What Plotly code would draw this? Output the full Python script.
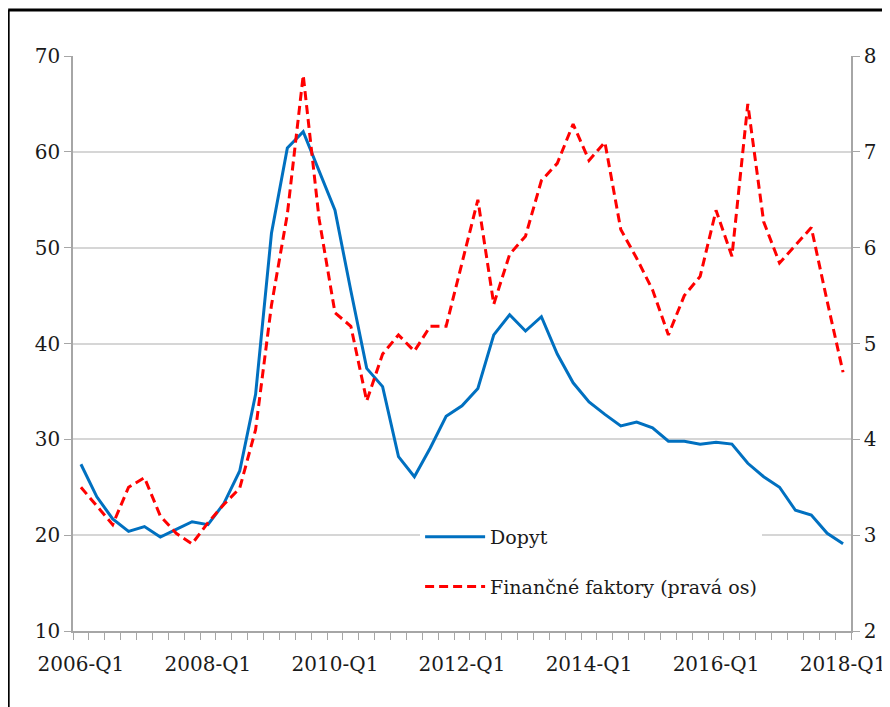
import plotly.graph_objects as go

quarters = [f"{y}-Q{q}" for y in range(2006, 2019) for q in range(1, 5)][:49]

dopyt = [27.4, 24.0, 21.7, 20.4, 20.9, 19.8, 20.6, 21.4, 21.1, 23.3, 26.7, 34.7,
         51.5, 60.4, 62.1, 58.0, 53.9, 45.5, 37.4, 35.5, 28.2, 26.1, 29.1, 32.4,
         33.5, 35.3, 40.9, 43.0, 41.3, 42.8, 38.9, 35.9, 33.9, 32.6, 31.4, 31.8,
         31.2, 29.8, 29.8, 29.5, 29.7, 29.5, 27.5, 26.1, 25.0, 22.6, 22.1, 20.2,
         19.1]

financne = [3.50, 3.30, 3.11, 3.50, 3.60, 3.20, 3.02, 2.91, 3.13, 3.32, 3.49, 4.10,
            5.40, 6.35, 7.80, 6.30, 5.32, 5.18, 4.40, 4.89, 5.09, 4.92, 5.18, 5.18,
            5.85, 6.50, 5.41, 5.93, 6.12, 6.70, 6.88, 7.29, 6.91, 7.10, 6.19, 5.89,
            5.56, 5.09, 5.50, 5.70, 6.39, 5.91, 7.50, 6.27, 5.84, 6.03, 6.21, 5.44,
            4.70]

label_idx = list(range(0, 49, 8))
label_txt = [quarters[i] for i in label_idx]

left_ticks = [10, 20, 30, 40, 50, 60, 70]
right_ticks = [2, 3, 4, 5, 6, 7, 8]

x = list(range(len(quarters)))
FONT = "DejaVu Serif"
TXT = "#1a1a1a"

fig = go.Figure()
fig.add_trace(go.Scatter(
    x=x, y=dopyt, name="Dopyt", mode="lines",
    line=dict(color="#0070C0", width=3),
    legendgroup="a",
))
fig.add_trace(go.Scatter(
    x=x, y=financne, name="Finančné faktory (pravá os)", mode="lines",
    line=dict(color="#FF0000", width=3, dash="9px,5px"),
    yaxis="y2", legendgroup="b",
))

OFF = 8
W, H = 890, 707
PL, PR, PT, PB = 73, 853, 56, 631
L = PL - OFF
T = PT - OFF
R = W + OFF - PR
B = H + OFF - PB
pw = PR - PL
ph = PB - PT

def px_x(p):
    return (p - PL) / pw

def px_y(p):
    return (PB - p) / ph

fig.update_layout(
    width=W, height=H,
    margin=dict(l=L, r=R, t=T, b=B, pad=0),
    paper_bgcolor="white", plot_bgcolor="white",
    font=dict(family=FONT, size=20, color=TXT),
    showlegend=True,
    legend=dict(
        x=px_x(421), y=px_y(518), xanchor="left", yanchor="top",
        bgcolor="white", borderwidth=0,
        font=dict(family=FONT, size=19, color=TXT),
        tracegroupgap=22, itemwidth=60,
    ),
    xaxis=dict(
        range=[-0.5, 48.5],
        tickmode="array", tickvals=label_idx, ticktext=label_txt,
        ticks="", showgrid=False, zeroline=False,
        showline=True, linecolor="#a6a6a6", linewidth=1.5,
        ticklabelstandoff=14,
        tickfont=dict(family=FONT, size=20, color=TXT),
        minor=dict(ticks="outside", tick0=-0.5, dtick=1, ticklen=7,
                   tickcolor="#a6a6a6", tickwidth=1, showgrid=False),
    ),
    yaxis=dict(
        range=[10, 70], tickmode="array", tickvals=left_ticks,
        ticks="outside", ticklen=7, tickcolor="#a6a6a6",
        showline=True, linecolor="#a6a6a6", linewidth=1.5,
        showgrid=True, gridcolor="#d6d6d6", gridwidth=2,
        zeroline=False,
        tickfont=dict(family=FONT, size=20, color=TXT),
    ),
    yaxis2=dict(
        range=[2, 8], tickmode="array", tickvals=right_ticks,
        overlaying="y", side="right",
        ticks="outside", ticklen=7, tickcolor="#a6a6a6",
        showline=True, linecolor="#a6a6a6", linewidth=1.5,
        showgrid=False, zeroline=False,
        tickfont=dict(family=FONT, size=20, color=TXT),
    ),
    shapes=[
        dict(type="line", xref="paper", yref="paper",
             x0=px_x(8), x1=px_x(8), y0=px_y(10), y1=px_y(730),
             line=dict(color="black", width=3)),
        dict(type="line", xref="paper", yref="paper",
             x0=px_x(8), x1=px_x(910), y0=px_y(10), y1=px_y(10),
             line=dict(color="black", width=3)),
    ],
)

fig.write_html("out.html")
